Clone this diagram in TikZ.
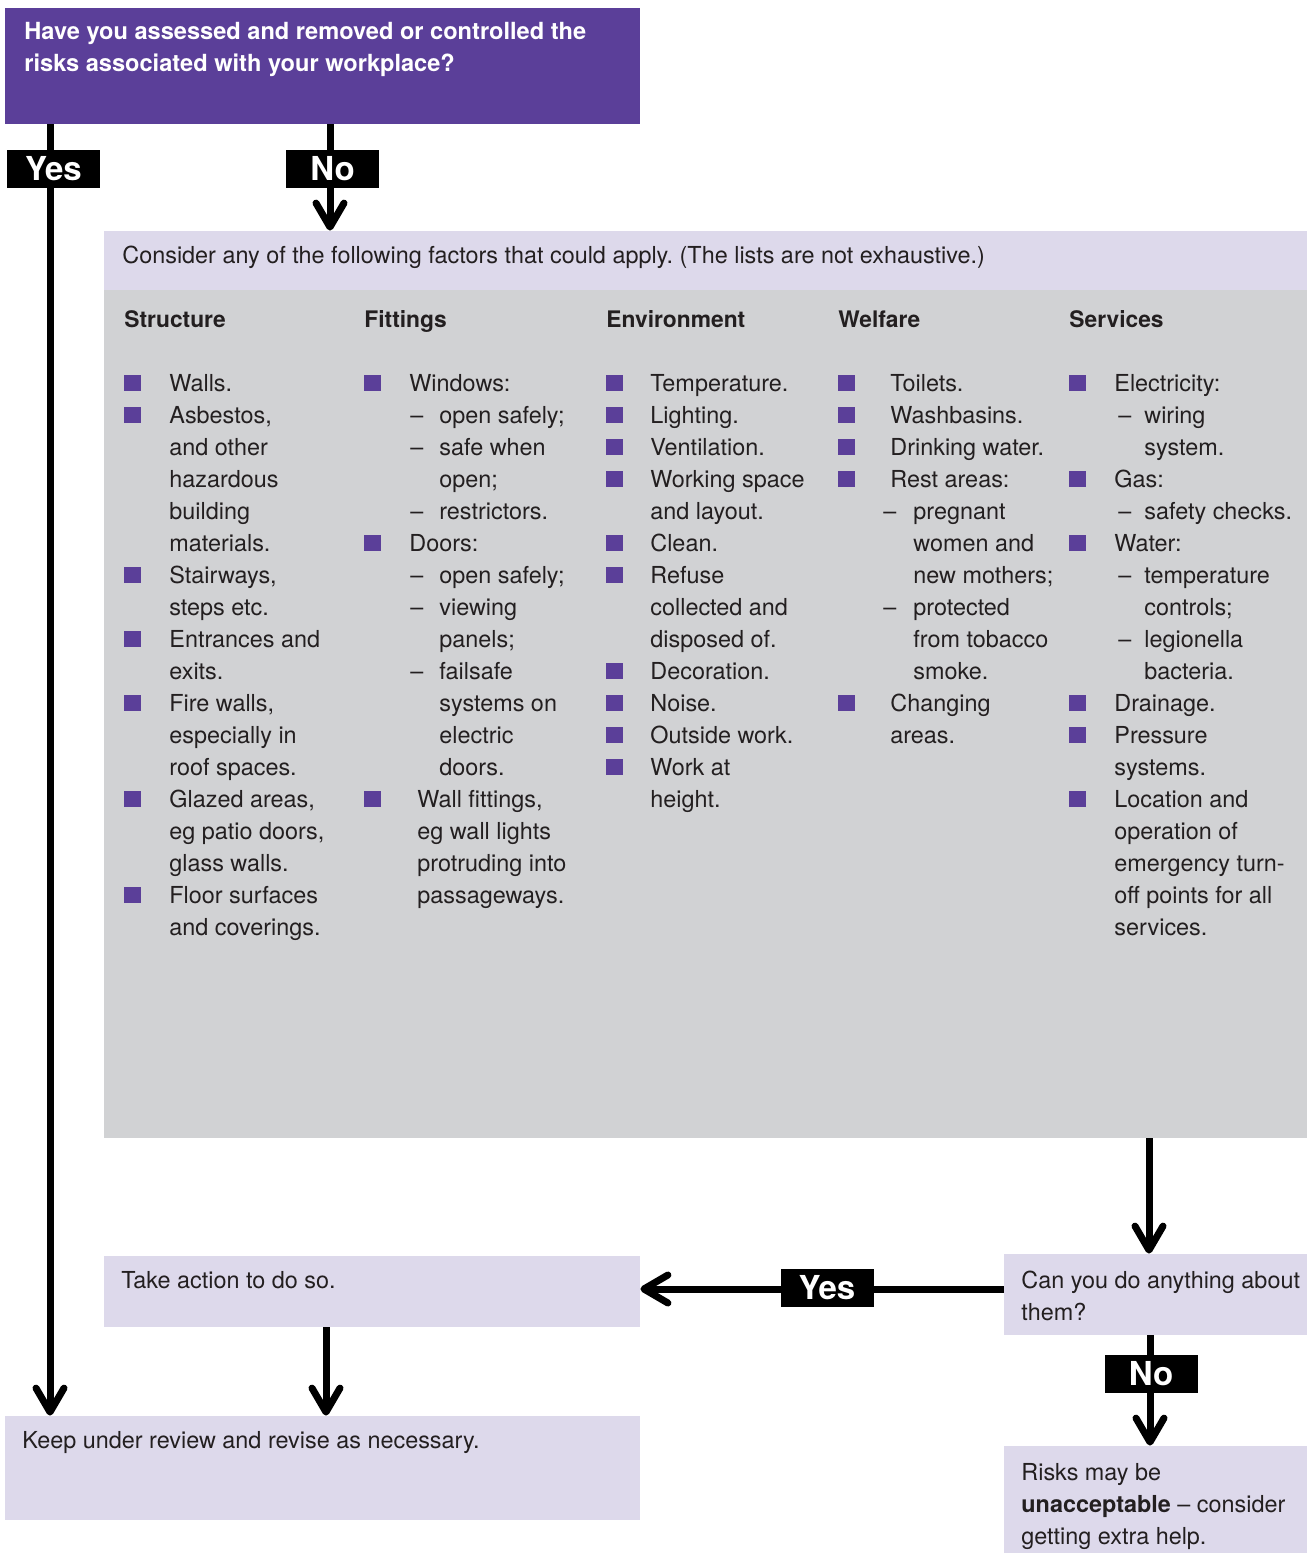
\documentclass[tikz,border=0pt]{standalone}
\usepackage{fontspec}
\setmainfont{TeX Gyre Heros}
\usetikzlibrary{arrows.meta,fit}
\frenchspacing

\definecolor{hdr}{HTML}{5B3F99}
\definecolor{lav}{HTML}{DDD9EB}
\definecolor{gry}{HTML}{D1D2D4}
\definecolor{ink}{HTML}{231F20}

% indents used by the factor lists
\newlength\colT
\newlength\colD
\newlength\colDT
\newcommand\sq{\textcolor{hdr}{\rule{8.5pt}{8pt}}}
\newcommand\itm[2][\colT]{\rlap{\sq}\hspace*{#1}#2}
\newcommand\cnt[2][\colT]{\hspace*{#1}#2}
\newcommand\dsh[1]{\hspace*{\colD}\rlap{--}\hspace*{\dimexpr\colDT-\colD\relax}#1}
\newcommand\dcn[1]{\hspace*{\colDT}#1}

\tikzset{
  panel/.style={inner sep=0, draw=none},
  txt/.style={anchor=base west, inner sep=0, text=ink, font=\fontsize{11.7}{16}\selectfont},
  head/.style={txt, font=\bfseries\fontsize{11.4}{16}\selectfont},
  conn/.style={line width=3.5pt, draw=black},
  arr/.style={conn, -{Straight Barb[length=12pt,width=14pt,round]}},
  lbl/.style={fill=black, text=white, font=\bfseries\fontsize{16.5}{18}\selectfont,
    minimum width=46.5pt, minimum height=19pt, inner xsep=0, inner ysep=3.6pt,
    text height=11.8pt, text depth=0pt},
}

\begin{document}
\begin{tikzpicture}[x=0.5pt,y=-0.5pt]
\useasboundingbox (0,0) rectangle (1309,1553);

% panels
\node[panel, fill=hdr, fit={(5,8) (640,124)}] (header) {};
\node[panel, fill=lav, fit={(104,231) (1307,290)}] (consider) {};
\node[panel, fill=gry, fit={(104,290) (1307,1138)}] (factors) {};
\node[panel, fill=lav, fit={(1004,1254) (1307,1335)}] (can) {};
\node[panel, fill=lav, fit={(104,1256) (640,1327)}] (take) {};
\node[panel, fill=lav, fit={(5,1416) (640,1520)}] (keep) {};
\node[panel, fill=lav, fit={(1004,1446) (1307,1553)}] (risks) {};

% texts in the panels
\node[txt, text=white, font=\bfseries\fontsize{11.8}{16}\selectfont] (headertext) at (24,39)
  {\begin{tabular}[t]{@{}l@{}}Have you assessed and removed or controlled the\\
   risks associated with your workplace?\end{tabular}};
\node[txt] (considertext) at (122,263)
  {Consider any of the following factors that could apply. (The lists are not exhaustive.)};
\node[txt] (taketext) at (121,1288) {Take action to do so.};
\node[txt] (keeptext) at (22,1448) {Keep under review and revise as necessary.};
\node[txt] (cantext) at (1021,1288)
  {\begin{tabular}[t]{@{}l@{}}Can you do anything about\\them?\end{tabular}};
\node[txt] (riskstext) at (1021,1480)
  {\begin{tabular}[t]{@{}l@{}}Risks may be\\\textbf{unacceptable} -- consider\\getting extra help.\end{tabular}};

% column headings
\node[head] (hstructure) at (124,327) {Structure};
\node[head] (hfittings) at (364,327) {Fittings};
\node[head] (henvironment) at (606,327) {Environment};
\node[head] (hwelfare) at (838,327) {Welfare};
\node[head] (hservices) at (1069,327) {Services};

% factor lists
\node[txt] (structure) at (124,391) {\setlength\colT{22.5pt}%
\begin{tabular}[t]{@{}l@{}}
\itm{Walls.}\\
\itm{Asbestos,}\\
\cnt{and other}\\
\cnt{hazardous}\\
\cnt{building}\\
\cnt{materials.}\\
\itm{Stairways,}\\
\cnt{steps etc.}\\
\itm{Entrances and}\\
\cnt{exits.}\\
\itm{Fire walls,}\\
\cnt{especially in}\\
\cnt{roof spaces.}\\
\itm{Glazed areas,}\\
\cnt{eg patio doors,}\\
\cnt{glass walls.}\\
\itm{Floor surfaces}\\
\cnt{and coverings.}
\end{tabular}};

\node[txt] (fittings) at (364,391) {\setlength\colT{22.5pt}\setlength\colD{23pt}\setlength\colDT{37.5pt}%
\begin{tabular}[t]{@{}l@{}}
\itm{Windows:}\\
\dsh{open safely;}\\
\dsh{safe when}\\
\dcn{open;}\\
\dsh{restrictors.}\\
\itm{Doors:}\\
\dsh{open safely;}\\
\dsh{viewing}\\
\dcn{panels;}\\
\dsh{failsafe}\\
\dcn{systems on}\\
\dcn{electric}\\
\dcn{doors.}\\
\itm[26.5pt]{Wall fittings,}\\
\cnt[26.5pt]{eg wall lights}\\
\cnt[26.5pt]{protruding into}\\
\cnt[26.5pt]{passageways.}
\end{tabular}};

\node[txt] (environment) at (606,391) {\setlength\colT{22pt}%
\begin{tabular}[t]{@{}l@{}}
\itm{Temperature.}\\
\itm{Lighting.}\\
\itm{Ventilation.}\\
\itm{Working space}\\
\cnt{and layout.}\\
\itm{Clean.}\\
\itm{Refuse}\\
\cnt{collected and}\\
\cnt{disposed of.}\\
\itm{Decoration.}\\
\itm{Noise.}\\
\itm{Outside work.}\\
\itm{Work at}\\
\cnt{height.}
\end{tabular}};

\node[txt] (welfare) at (838,391) {\setlength\colT{26pt}\setlength\colD{22.5pt}\setlength\colDT{37.5pt}%
\begin{tabular}[t]{@{}l@{}}
\itm{Toilets.}\\
\itm{Washbasins.}\\
\itm{Drinking water.}\\
\itm{Rest areas:}\\
\dsh{pregnant}\\
\dcn{women and}\\
\dcn{new mothers;}\\
\dsh{protected}\\
\dcn{from tobacco}\\
\dcn{smoke.}\\
\itm{Changing}\\
\cnt{areas.}
\end{tabular}};

\node[txt] (services) at (1069,391) {\setlength\colT{22.5pt}\setlength\colD{24.5pt}\setlength\colDT{37.5pt}%
\begin{tabular}[t]{@{}l@{}}
\itm{Electricity:}\\
\dsh{wiring}\\
\dcn{system.}\\
\itm{Gas:}\\
\dsh{safety checks.}\\
\itm{Water:}\\
\dsh{temperature}\\
\dcn{controls;}\\
\dsh{legionella}\\
\dcn{bacteria.}\\
\itm{Drainage.}\\
\itm{Pressure}\\
\cnt{systems.}\\
\itm{Location and}\\
\cnt{operation of}\\
\cnt{emergency turn-}\\
\cnt{off points for all}\\
\cnt{services.}
\end{tabular}};

% reference points for the connector lines
\coordinate (yesx) at (50,169);
\coordinate (nox) at (330,169);
\coordinate (gx) at (1149,1200);
\coordinate (hy) at (800,1289);
\coordinate (tx) at (326,1370);
\coordinate (rx) at (1150,1374);

% connectors
\draw[arr] (header.south -| yesx) -- (keep.north -| yesx);
\draw[arr] (header.south -| nox) -- (consider.north -| nox);
\draw[arr] (factors.south -| gx) -- (can.north -| gx);
\draw[arr] (can.west |- hy) -- (take.east |- hy);
\draw[arr] (take.south -| tx) -- (keep.north -| tx);
\draw[arr] (can.south -| rx) -- (risks.north -| rx);

% answer labels
\node[lbl] (lyes1) at (53.5,169) {Yes};
\node[lbl] (lno1) at (332.5,169) {No};
\node[lbl] (lyes2) at (827,1287.5) {Yes};
\node[lbl] (lno2) at (1151,1374) {No};
\end{tikzpicture}
\end{document}
